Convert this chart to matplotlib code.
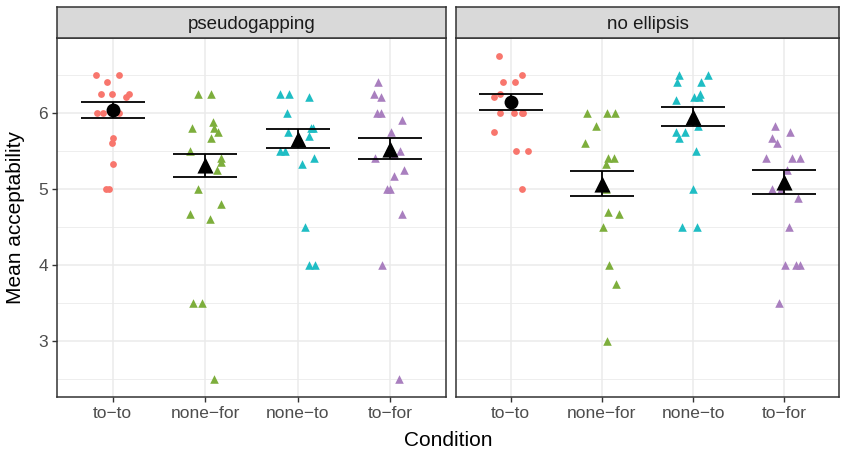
import numpy as np
import matplotlib
matplotlib.use("Agg")
import matplotlib.pyplot as plt

plt.rcParams["font.family"] = ["Liberation Sans", "DejaVu Sans"]

# ── data ──────────────────────────────────────────────────────────────────────
CONDITIONS = ["to\u2212to", "none\u2212for", "none\u2212to", "to\u2212for"]
PANELS = ["pseudogapping", "no ellipsis"]
COLORS = ["#F8766D", "#7DAE3C", "#1FBDC4", "#A97FBF"]
SHAPES = ["o", "^", "^", "^"]

# pseudogapping: individual means + horizontal jitter (category units)
pg_toto = [6.5, 6.5, 6.4, 6.25, 6.25, 6.25, 6.2, 6.0, 6.0, 6.0, 5.67, 5.6, 5.33, 5.0, 5.0]
pg_toto_jit = [-0.18, 0.07, -0.06, -0.12, -0.01, 0.18, 0.15, -0.17, -0.10, 0.07, 0.01, -0.01, 0.0, -0.07, -0.04]
pg_nonefor = [6.25, 6.25, 5.8, 5.875, 5.8, 5.75, 5.67, 5.5, 5.4, 5.35, 5.25, 5.0, 4.8, 4.67, 4.6, 3.5, 3.5, 2.5]
pg_nonefor_jit = [-0.08, 0.06, -0.14, 0.08, 0.09, 0.14, 0.06, -0.16, 0.17, 0.17, 0.13, -0.08, 0.17, -0.16, 0.05, -0.13, -0.03, 0.10]
pg_noneto = [6.25, 6.25, 6.2, 6.0, 5.75, 5.8, 5.8, 5.7, 5.5, 5.5, 5.33, 5.4, 4.5, 4.0, 4.0]
pg_noneto_jit = [-0.19, -0.10, 0.12, -0.12, -0.11, 0.14, 0.16, 0.12, -0.19, -0.14, 0.05, 0.18, 0.08, 0.12, 0.19]
pg_tofor = [6.4, 6.25, 6.2, 6.0, 6.0, 5.9, 5.75, 5.5, 5.4, 5.45, 5.25, 5.17, 5.0, 5.0, 4.67, 4.0, 2.5]
pg_tofor_jit = [-0.13, -0.18, -0.10, -0.15, -0.10, 0.12, 0.01, 0.10, -0.17, 0.04, 0.15, 0.04, -0.04, -0.01, 0.13, -0.09, 0.09]

# no ellipsis
ne_toto = [6.75, 6.5, 6.4, 6.4, 6.25, 6.2, 6.0, 6.0, 6.0, 6.0, 5.75, 5.5, 5.5, 5.0]
ne_toto_jit = [-0.13, 0.12, -0.09, 0.05, -0.12, -0.18, -0.12, 0.04, 0.12, 0.14, -0.18, 0.06, 0.19, 0.12]
ne_nonefor = [6.0, 6.0, 6.0, 5.83, 5.6, 5.4, 5.4, 5.33, 5.0, 4.7, 4.67, 4.5, 4.0, 3.75, 3.0]
ne_nonefor_jit = [-0.16, 0.06, 0.14, -0.07, -0.18, 0.07, 0.13, 0.05, 0.05, 0.07, 0.19, 0.01, 0.08, 0.15, 0.06]
ne_noneto = [6.5, 6.5, 6.4, 6.4, 6.25, 6.2, 6.2, 6.17, 5.83, 5.75, 5.75, 5.67, 5.5, 5.0, 4.5, 4.5]
ne_noneto_jit = [-0.15, 0.16, -0.18, 0.09, 0.08, 0.01, 0.06, -0.19, 0.05, -0.19, -0.09, -0.15, 0.03, 0.0, -0.12, 0.04]
ne_tofor = [5.83, 5.75, 5.67, 5.6, 5.4, 5.4, 5.4, 5.25, 5.0, 5.0, 4.875, 4.5, 4.0, 4.0, 4.0, 3.5]
ne_tofor_jit = [-0.10, 0.06, -0.13, -0.08, -0.20, 0.08, 0.17, 0.03, -0.13, -0.04, 0.15, 0.05, 0.01, 0.13, 0.17, -0.06]

# condition means and standard errors per panel
pg_mean = [6.04, 5.31, 5.66, 5.53]
pg_se = [0.104, 0.148, 0.124, 0.141]
ne_mean = [6.14, 5.07, 5.95, 5.09]
ne_se = [0.111, 0.161, 0.120, 0.161]

points = {
    "pseudogapping": [(pg_toto, pg_toto_jit), (pg_nonefor, pg_nonefor_jit),
                      (pg_noneto, pg_noneto_jit), (pg_tofor, pg_tofor_jit)],
    "no ellipsis": [(ne_toto, ne_toto_jit), (ne_nonefor, ne_nonefor_jit),
                    (ne_noneto, ne_noneto_jit), (ne_tofor, ne_tofor_jit)],
}
summary = {"pseudogapping": (pg_mean, pg_se), "no ellipsis": (ne_mean, ne_se)}

# ── layout (pixel geometry of the ggplot facets) ──────────────────────────────
W, H = 841, 455
fig = plt.figure(figsize=(W / 100, H / 100), dpi=100)
panel_x = [(57, 446), (456, 839)]
top, bottom, strip_top = 38, 397, 7
GRID = "#EBEBEB"
FRAME = "#333333"

for k, name in enumerate(PANELS):
    x0, x1 = panel_x[k]
    ax = fig.add_axes([x0 / W, (H - bottom) / H, (x1 - x0) / W, (bottom - top) / H])
    ax.set_xlim(0.4, 4.6)
    ax.set_ylim(2.27, 6.98)
    ax.set_xticks(range(1, 5))
    ax.set_yticks([3, 4, 5, 6])
    ax.set_yticks([2.5, 3.5, 4.5, 5.5, 6.5], minor=True)
    ax.grid(True, which="major", color=GRID, lw=1.1, zorder=0)
    ax.grid(True, which="minor", axis="y", color=GRID, lw=0.6, zorder=0)
    ax.set_axisbelow(True)
    for s in ax.spines.values():
        s.set_color(FRAME)
        s.set_linewidth(1.1)
    ax.tick_params(which="major", length=3.5, width=1.0, color=FRAME,
                   labelsize=12.5, labelcolor="#4D4D4D", pad=3)
    ax.tick_params(which="minor", length=0)
    ax.set_xticklabels(CONDITIONS)
    if k == 1:
        ax.tick_params(axis="y", which="both", left=False, labelleft=False)

    for i, (vals, jit) in enumerate(points[name]):
        xs = np.array(jit) + (i + 1)
        ax.scatter(xs, vals, marker=SHAPES[i], color=COLORS[i],
                   s=24 if SHAPES[i] == "o" else 38, linewidths=0, zorder=3)

    means, ses = summary[name]
    xc = np.arange(1, 5)
    ax.errorbar(xc, means, yerr=ses, fmt="none", ecolor="black",
                elinewidth=1.3, capsize=23, capthick=1.3, zorder=4)
    for i in range(4):
        ax.scatter(xc[i], means[i], marker=SHAPES[i], color="black",
                   s=100 if SHAPES[i] == "o" else 135, linewidths=0, zorder=5)

    # facet strip
    sax = fig.add_axes([x0 / W, (H - top) / H, (x1 - x0) / W, (top - strip_top) / H])
    sax.set_facecolor("#D9D9D9")
    sax.set_xticks([])
    sax.set_yticks([])
    for s in sax.spines.values():
        s.set_color(FRAME)
        s.set_linewidth(1.1)
    sax.text(0.5, 0.45, name, ha="center", va="center", fontsize=13.5,
             color="#1A1A1A", transform=sax.transAxes)

fig.text(448 / W, 1 - 441 / H, "Condition", ha="center", va="center", fontsize=15)
fig.text(16 / W, 1 - 217 / H, "Mean acceptability", ha="center", va="center",
         rotation=90, fontsize=15)

fig.savefig("out.png", dpi=100)
